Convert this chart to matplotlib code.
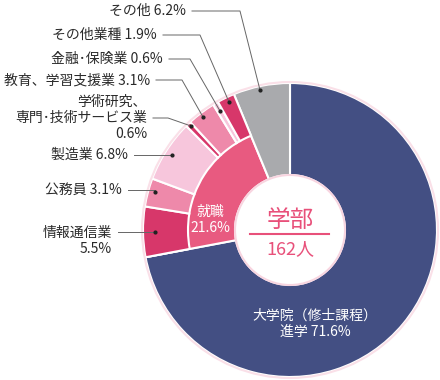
import matplotlib.pyplot as plt
from matplotlib.patches import Circle

plt.rcParams['font.family'] = ['Noto Sans CJK JP', 'DejaVu Sans']

# データ
main_labels = ['大学院（修士課程）進学', '就職', 'その他']
main_values = [71.6, 21.6, 6.2]
main_colors = ['#434f83', '#e85a80', '#a9aaad']

job_labels = ['情報通信業\n5.5%', '公務員 3.1%', '製造業 6.8%',
              '学術研究、\n専門･技術サービス業\n0.6%', '教育、学習支援業 3.1%',
              '金融･保険業 0.6%', 'その他業種 1.9%']
job_values = [5.5, 3.1, 6.8, 0.6, 3.1, 0.6, 1.9]
job_colors = ['#d7376a', '#ee89aa', '#f7c6dc', '#d7376a', '#ee89aa', '#f7c6dc', '#d7376a']

# ラベル位置 (テキスト右端x, テキスト中心y, 引き出し線y) と折れ点x (pixel, 上から)
label_pos = [(112, 241, 232), (122, 190, 190), (128, 155, 155), (147, 118, 118),
             (150, 80, 80), (163, 59, 59), (157, 35, 35)]
elbow_x = [155, 155, 172, 168, 182, 190, 200]
dot_pos = [(155, 232), (155, 192), (172, 155), (191, 126), (203, 117), (220, 111), (229, 102)]
other_label = 'その他 6.2%'

W, H = 440, 380
cx, cy = 290, H - 230
R, r_mid, r_in = 147, 102, 55

fig = plt.figure(figsize=(4.4, 3.8), dpi=100)
ax = fig.add_axes([0, 0, 1, 1])

# 内側(大分類)
ax.pie(main_values, colors=main_colors, radius=R, center=(cx, cy), startangle=90,
       counterclock=False, wedgeprops=dict(width=R - r_in, edgecolor='white', linewidth=1.5))

# 外側(就職の内訳)
ring_vals = [main_values[0]] + job_values + [main_values[2]]
ring_cols = ['none'] + job_colors + ['none']
wedges, _ = ax.pie(ring_vals, colors=ring_cols, radius=R, center=(cx, cy), startangle=90,
                   counterclock=False, wedgeprops=dict(width=R - r_mid, edgecolor='white', linewidth=1.5))
wedges[0].set_edgecolor('none')
wedges[-1].set_edgecolor('none')

ax.add_patch(Circle((cx, cy), R + 1, facecolor='none', edgecolor='#fae0e8', linewidth=1.5))
ax.add_patch(Circle((cx, cy), r_in, facecolor='white', edgecolor='#f8d5e0', linewidth=1.5, zorder=5))

# 中央テキスト
pink = '#e8507a'
ax.text(cx, H - 220, '学部', color=pink, fontsize=17, ha='center', va='center', zorder=6)
ax.plot([250, 329], [H - 234, H - 234], color=pink, lw=1.5, zorder=6)
ax.text(cx, H - 249, '162人', color=pink, fontsize=13, ha='center', va='center', zorder=6)

ax.text(210, H - 220, '就職\n21.6%', color='white', fontsize=10, ha='center', va='center',
        linespacing=1.2)
ax.text(315, H - 324, '大学院（修士課程）\n進学 71.6%', color='white', fontsize=10,
        ha='center', va='center', linespacing=1.2)

# ラベルと引き出し線
line_c = '#666666'
for lab, (tx, ty, ly), ex, (dx, dy) in zip(job_labels, label_pos, elbow_x, dot_pos):
    ax.text(tx, H - ty, lab, fontsize=10, color='#2a2a2a', ha='right', va='center',
            linespacing=1.2)
    ax.plot([tx + 6, ex, dx], [H - ly, H - ly, H - dy], color=line_c, lw=0.7)
    ax.plot(dx, H - dy, 'o', color='#222222', ms=2)

ax.text(186, H - 11, other_label, fontsize=10, color='#2a2a2a', ha='right', va='center')
ax.plot([192, 240, 260], [H - 11, H - 11, H - 90], color=line_c, lw=0.7)
ax.plot(260, H - 90, 'o', color='#222222', ms=2)

ax.set_xlim(0, W)
ax.set_ylim(0, H)
ax.set_aspect('equal')
ax.axis('off')

plt.savefig('out.png', dpi=100)
